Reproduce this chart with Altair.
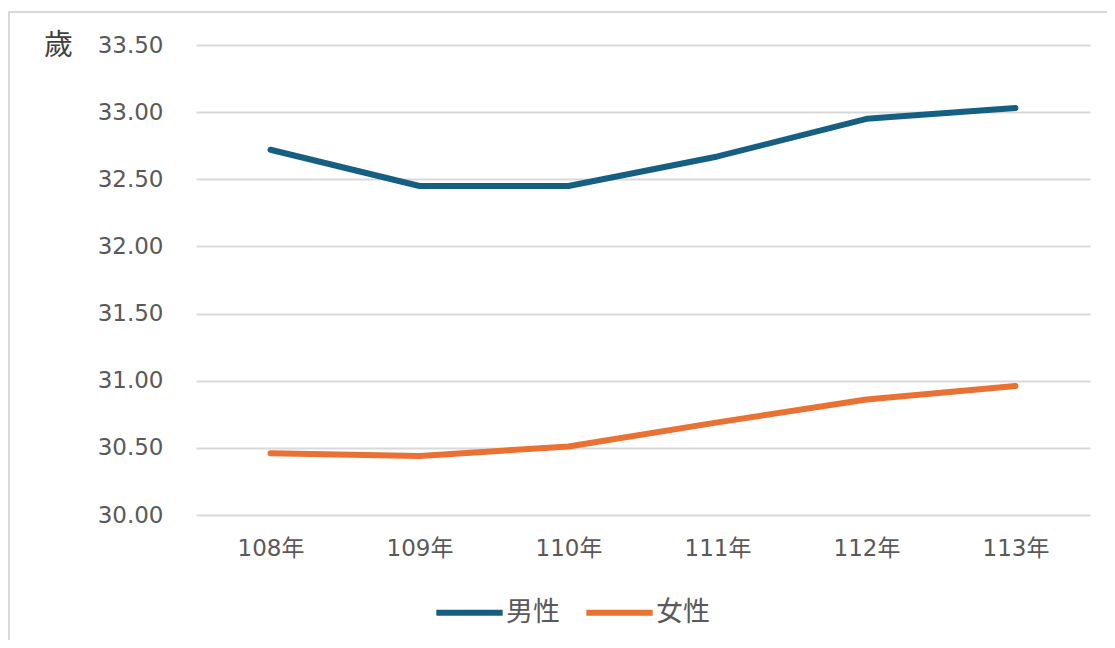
import altair as alt
import pandas as pd

years = ["108年", "109年", "110年", "111年", "112年", "113年"]
male = [32.72, 32.45, 32.45, 32.67, 32.95, 33.03]
female = [30.46, 30.44, 30.51, 30.69, 30.86, 30.96]
series = ["男性", "女性"]
colors = ["#156082", "#E97132"]

rows = []
for s, vals in zip(series, [male, female]):
    for y, v in zip(years, vals):
        rows.append({"年": y, "性別": s, "歲": v})
df = pd.DataFrame(rows)

FONT = "DejaVu Sans, Noto Sans CJK TC"

lines = alt.Chart(df).mark_line(strokeWidth=6, strokeCap="round", strokeJoin="round").encode(
    x=alt.X("年:N", sort=years, scale=alt.Scale(type="point", padding=0.5),
            axis=alt.Axis(title=None, labelAngle=0, ticks=False, domain=False, grid=False,
                          labelPadding=22, labelFontSize=23, labelColor="#595959", labelFont=FONT)),
    y=alt.Y("歲:Q", scale=alt.Scale(domain=[30, 33.5], zero=False, nice=False),
            axis=alt.Axis(values=[30, 30.5, 31, 31.5, 32, 32.5, 33, 33.5], format=".2f",
                          ticks=False, domain=False, gridColor="#d9d9d9", gridWidth=2,
                          labelPadding=33, labelFontSize=23, labelColor="#595959", labelFont=FONT,
                          title="歲", titleAngle=0, titleX=-138, titleY=0, titleAlign="center",
                          titleBaseline="middle", titleFontSize=29, titleFontWeight="normal",
                          titleColor="#404040", titleFont=FONT)),
    color=alt.Color("性別:N", sort=series, scale=alt.Scale(domain=series, range=colors),
                    legend=alt.Legend(title=None, orient="none", direction="horizontal",
                                      legendX=237, legendY=531, symbolType="stroke",
                                      symbolSize=4400, symbolStrokeWidth=6, labelOffset=0,
                                      columnPadding=14, labelFontSize=27, labelColor="#595959",
                                      labelFont=FONT)),
)

frame_left = alt.Chart(df).mark_rule(color="#d9d9d9", strokeWidth=2).encode(
    x=alt.value(-187), y=alt.value(-33), y2=alt.value(620)
)
frame_top = alt.Chart(df).mark_rule(color="#d9d9d9", strokeWidth=2).encode(
    x=alt.value(-188), x2=alt.value(930), y=alt.value(-33)
)

chart = alt.layer(frame_left, frame_top, lines).properties(
    width=894, height=470,
    background="white",
    autosize=alt.AutoSizeParams(type="none"),
    padding={"left": 188, "top": 37, "right": 17, "bottom": 125},
).configure_view(stroke=None)

chart.save("out.html", embed_options={"renderer": "svg", "actions": False})
